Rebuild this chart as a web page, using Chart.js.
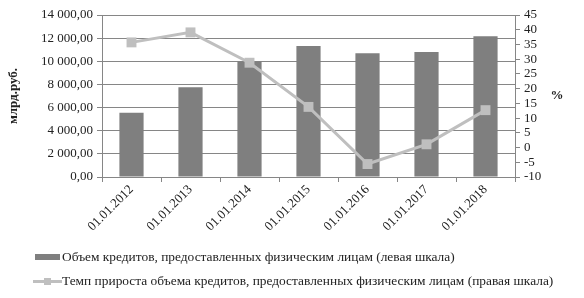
<html><head><title>Кредиты физическим лицам</title>
<script src="https://cdn.jsdelivr.net/npm/chart.js"></script>
<style>
  body {
    margin: 0;
    background: #fff;
    font-family: 'Liberation Serif', 'Times New Roman', serif;
  }
  #wrap {
    position: relative;
    width: 584px;
    height: 298px;
  }
  #legend {
    position: absolute;
    left: 33px;
    top: 248px;
    font-size: 13.4px;
    color: #222;
  }
  .item {
    height: 24px;
    line-height: 18px;
    white-space: nowrap;
  }
  .mark {
    display: inline-block;
    width: 29px;
    height: 18px;
    position: relative;
    vertical-align: top;
  }
  .bar-mark {
    position: absolute;
    left: 2px; top: 6px;
    width: 25px; height: 6px;
    background: #7f7f7f;
  }
  .line-mark {
    position: absolute;
    left: 0; top: 8px;
    width: 29px; height: 3px;
    background: #bfbfbf;
  }
  .sq-mark {
    position: absolute;
    left: 11px; top: 6px;
    width: 7px; height: 7px;
    background: #bfbfbf;
  }
</style>
</head>
<body>
<div id="wrap">
  <canvas id="chart" width="584" height="298"></canvas>
  <div id="legend"></div>
</div>

<script>
const dates = ['01.01.2012', '01.01.2013', '01.01.2014', '01.01.2015', '01.01.2016', '01.01.2017', '01.01.2018'];
const loans = [5550, 7750, 9980, 11330, 10690, 10800, 12170];
const growth = [35.7, 39.1, 28.8, 13.8, -5.6, 1.1, 12.7];
const barLabel = 'Объем кредитов, предоставленных физическим лицам (левая шкала)';
const lineLabel = 'Темп прироста объема кредитов, предоставленных физическим лицам (правая шкала)';
const leftTitle = 'млрд.руб.';
const rightTitle = '%';

const font = { family: "'Liberation Serif', 'Times New Roman', serif", size: 13 };
const txt = '#222';
const gridCol = '#868686';

// "%" next to the right axis
const rightTitlePlugin = {
  id: 'rightTitle',
  afterDraw(chart) {
    const ctx = chart.ctx;
    const a = chart.chartArea;
    ctx.save();
    ctx.font = 'bold 13px ' + font.family;
    ctx.fillStyle = txt;
    ctx.textAlign = 'center';
    ctx.textBaseline = 'middle';
    ctx.fillText(rightTitle, 557, (a.top + a.bottom) / 2);
    ctx.restore();
  }
};

const fmt = v => {
  const parts = v.toFixed(2).split('.');
  return parts[0].replace(/\B(?=(\d{3})+(?!\d))/g, ' ') + ',' + parts[1];
};

new Chart(document.getElementById('chart'), {
  data: {
    labels: dates,
    datasets: [
      {
        type: 'line',
        label: lineLabel,
        data: growth,
        yAxisID: 'y1',
        borderColor: '#bfbfbf',
        backgroundColor: '#bfbfbf',
        borderWidth: 3,
        pointStyle: 'rect',
        pointRadius: 7,
        pointBorderWidth: 0,
        tension: 0,
        order: 0
      },
      {
        type: 'bar',
        label: barLabel,
        data: loans,
        yAxisID: 'y',
        backgroundColor: '#7f7f7f',
        barPercentage: 0.41,
        categoryPercentage: 1,
        order: 1
      }
    ]
  },
  options: {
    responsive: false,
    animation: false,
    layout: { padding: { top: 15, left: 6, right: 0, bottom: 0 } },
    plugins: {
      legend: { display: false },
      tooltip: { enabled: false }
    },
    scales: {
      x: {
        offset: true,
        grid: { display: true, drawOnChartArea: false, offset: true, tickLength: 5, color: gridCol },
        border: { color: gridCol },
        ticks: { font: font, color: txt, maxRotation: 45, minRotation: 45, padding: 0 },
        afterFit(s) { s.height = 121; }
      },
      y: {
        position: 'left',
        min: 0, max: 14000,
        grid: { color: gridCol, tickLength: 5 },
        border: { color: gridCol },
        ticks: { stepSize: 2000, font: font, color: txt, padding: 4, callback: v => fmt(v) },
        title: { display: true, text: leftTitle, font: { family: font.family, size: 13, weight: 'bold' }, color: txt, padding: 0 },
        afterFit(s) { s.width = 96; }
      },
      y1: {
        position: 'right',
        min: -10, max: 45,
        grid: { drawOnChartArea: false, color: gridCol, tickLength: 5 },
        border: { color: gridCol },
        ticks: { stepSize: 5, autoSkip: false, font: font, color: txt, padding: 4 },
        afterFit(s) { s.width = 69; }
      }
    }
  },
  plugins: [rightTitlePlugin]
});

document.getElementById('legend').innerHTML =
  '<div class="item"><span class="mark"><span class="bar-mark"></span></span>' + barLabel + '</div>' +
  '<div class="item"><span class="mark"><span class="line-mark"></span><span class="sq-mark"></span></span>' + lineLabel + '</div>';
</script>
</body></html>
